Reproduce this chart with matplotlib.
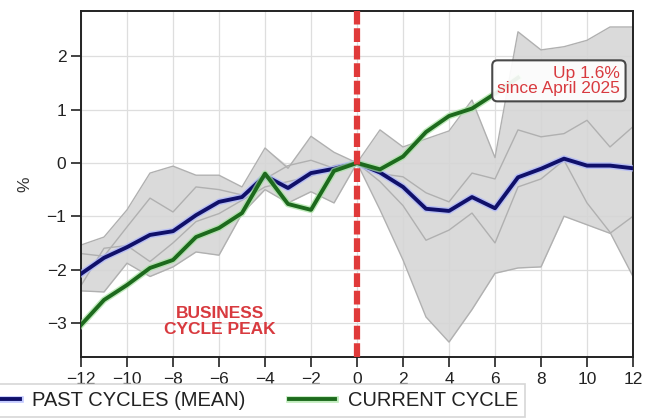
import matplotlib
matplotlib.use("Agg")
import matplotlib.pyplot as plt
import matplotlib.patheffects as pe
import numpy as np

plt.rcParams['font.family'] = ['Liberation Sans', 'DejaVu Sans']

months = list(range(-12, 13))

# Individual past cycles (% change relative to cycle peak)
cycle_a = [-1.54, -1.39, -0.88, -0.19, -0.06, -0.23, -0.23, -0.45, 0.28, -0.10, 0.50, 0.20, 0.0,
           0.62, 0.30, 0.45, 0.60, 1.18, 0.10, 2.46, 2.12, 2.18, 2.30, 2.55, 2.55]
cycle_b = [-1.70, -1.75, -1.20, -0.66, -0.92, -0.45, -0.50, -0.60, -0.30, -0.05, 0.05, -0.10, 0.0,
           -0.20, -0.26, -0.56, -0.73, -0.19, -0.30, 0.62, 0.49, 0.55, 0.80, 0.30, 0.68]
cycle_c = [-2.40, -2.42, -1.88, -2.13, -1.95, -1.67, -1.73, -0.95, -0.50, -0.75, -0.54, -0.75, 0.0,
           -0.88, -1.82, -2.89, -3.36, -2.75, -2.07, -1.97, -1.95, -1.00, -1.16, -1.32, -1.00]
cycle_d = [-2.30, -1.60, -1.55, -1.85, -1.50, -1.10, -0.95, -0.70, -0.45, -0.35, -0.25, -0.05, 0.0,
           -0.35, -0.80, -1.45, -1.26, -0.94, -1.50, -0.45, -0.30, 0.05, -0.75, -1.30, -2.13]

past_mean = [-2.08, -1.78, -1.58, -1.35, -1.28, -0.98, -0.73, -0.64, -0.24, -0.47, -0.19, -0.11, 0.0,
             -0.18, -0.45, -0.86, -0.90, -0.64, -0.85, -0.27, -0.11, 0.08, -0.05, -0.05, -0.10]

current_months = list(range(-12, 8))
current_cycle = [-3.04, -2.57, -2.29, -1.97, -1.82, -1.39, -1.22, -0.94, -0.20, -0.77, -0.88, -0.15, 0.0,
                 -0.12, 0.12, 0.58, 0.88, 1.02, 1.30, 1.60]

xticks = list(range(-12, 13, 2))
yticks = [-3, -2, -1, 0, 1, 2]

fig = plt.figure(figsize=(6.57, 4.19), dpi=100)
ax = fig.add_axes([81/657, 1-357/419, (633-81)/657, (357-11)/419])

cycles = np.array([cycle_a, cycle_b, cycle_c, cycle_d])
ax.fill_between(months, cycles.min(axis=0), cycles.max(axis=0), color='#d6d6d6', alpha=0.9, lw=0, zorder=1)
for c in cycles:
    ax.plot(months, c, color='#b0b0b0', lw=1.0, zorder=2)

ax.plot(months, past_mean, color='#10106a', lw=2.8, zorder=4,
        path_effects=[pe.Stroke(linewidth=4.8, foreground='#aab4ff', alpha=0.7), pe.Normal()],
        label='PAST CYCLES (MEAN)')
ax.plot(current_months, current_cycle, color='#1d6a1d', lw=2.8, zorder=4,
        path_effects=[pe.Stroke(linewidth=4.8, foreground='#a6e3a0', alpha=0.7), pe.Normal()],
        label='CURRENT CYCLE')

ax.axvline(0, color='#e03a3a', lw=4.5, ls=(0, (2.2, 0.6)), zorder=5)

ax.text(-5.95, -2.97, 'BUSINESS\nCYCLE PEAK', color='#d83a3f', fontsize=12.5, fontweight='bold',
        ha='center', va='center', linespacing=1.05, zorder=6)

ax.text(11.45, 1.54, 'Up 1.6%\nsince April 2025', color='#d83a3f', fontsize=12.5, ha='right', va='center',
        linespacing=1.05, zorder=7,
        bbox=dict(boxstyle='round,pad=0.3,rounding_size=0.3', facecolor='white', alpha=0.92,
                  edgecolor='#3a3a3a', linewidth=1.5))

ax.set_xlim(-12, 12)
ax.set_ylim(-3.64, 2.85)
ax.set_xticks(xticks)
ax.set_yticks(yticks)
ax.set_xticklabels([str(t).replace('-', '\u2212') for t in xticks])
ax.set_yticklabels([str(t).replace('-', '\u2212') for t in yticks])
ax.tick_params(axis='both', direction='out', length=7, width=1.2, labelsize=12.5, colors='#222222')
ax.tick_params(axis='x', pad=4)
ax.grid(True, color='#dedede', lw=0.9, zorder=0)
ax.set_axisbelow(True)
for s in ax.spines.values():
    s.set_color('#222222')
    s.set_linewidth(1.4)
ax.set_ylabel('%', fontsize=12.5, color='#333333', labelpad=10)

handles, labels = ax.get_legend_handles_labels()
leg = fig.legend(handles, labels, loc='upper left', bbox_to_anchor=(-33/657, 1-384/419), ncol=2,
                 fontsize=14.5, frameon=True, fancybox=False, shadow=False, handlelength=2.3,
                 columnspacing=2.15, borderpad=0.35, handletextpad=0.6, borderaxespad=0)
leg.get_frame().set_edgecolor('#cccccc')
leg.get_frame().set_linewidth(1.2)
leg.set_zorder(20)
for t in leg.get_texts():
    t.set_color('#222222')

fig.savefig('out.png', dpi=100)
